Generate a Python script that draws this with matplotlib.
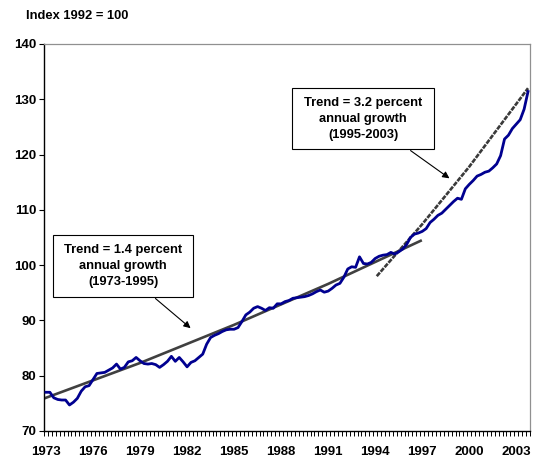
import numpy as np
import matplotlib
matplotlib.use("Agg")
import matplotlib.pyplot as plt
from matplotlib.patches import Rectangle

plt.rcParams['font.family'] = ['Liberation Sans', 'DejaVu Sans']
plt.rcParams['font.weight'] = 'bold'

# quarterly index, 1973Q1 .. 2003Q4 (1992 = 100)
primerAnio = 1973
indice = [
    77.0, 77.0, 76.0, 75.7, 75.6, 75.6, 74.7, 75.2,  # 1973-74
    75.9, 77.2, 78.0, 78.2, 79.3, 80.4, 80.5, 80.6,  # 1975-76
    81.0, 81.4, 82.1, 81.2, 81.5, 82.5, 82.7, 83.3,  # 1977-78
    82.7, 82.2, 82.1, 82.2, 82.0, 81.5, 82.0, 82.6,  # 1979-80
    83.5, 82.6, 83.3, 82.5, 81.6, 82.4, 82.7, 83.3,  # 1981-82
    83.9, 85.7, 86.9, 87.3, 87.6, 88.0, 88.3, 88.4,  # 1983-84
    88.4, 88.7, 89.8, 91.0, 91.5, 92.2, 92.5, 92.2,  # 1985-86
    91.8, 92.3, 92.2, 93.0, 93.0, 93.4, 93.6, 94.0,  # 1987-88
    94.1, 94.2, 94.3, 94.5, 94.8, 95.2, 95.5, 95.1,  # 1989-90
    95.3, 95.8, 96.4, 96.7, 97.8, 99.3, 99.7, 99.6,  # 1991-92
    101.5, 100.3, 100.2, 100.5, 101.2, 101.6, 101.8, 101.9,  # 1993-94
    102.3, 102.0, 102.4, 102.9, 103.7, 105.0, 105.6, 105.8,  # 1995-96
    106.1, 106.6, 107.7, 108.3, 109.0, 109.4, 110.1, 110.8,  # 1997-98
    111.5, 112.1, 111.9, 113.8, 114.6, 115.3, 116.1, 116.4,  # 1999-00
    116.8, 117.0, 117.6, 118.3, 119.8, 122.8, 123.5, 124.7,  # 2001-02
    125.5, 126.3, 128.2, 131.4,  # 2003
]

# trend lines
tendencia1Anios = [1972.9, 1979, 1985, 1991, 1996.9]
tendencia1Valores = [75.9, 82.3, 89.2, 96.6, 104.4]
tendencia2Anios = [1994.1, 1997, 2000, 2003.75]
tendencia2Valores = [98.0, 107.4, 117.8, 132.0]

etiquetasAnios = list(range(1973, 2004, 3))
ticksY = list(range(70, 141, 10))

texto1 = "Trend = 1.4 percent\nannual growth\n(1973-1995)"
texto2 = "Trend = 3.2 percent\nannual growth\n(1995-2003)"

trimestres = primerAnio + np.arange(len(indice)) / 4

fig = plt.figure(figsize=(5.36, 4.58), dpi=100)
ax = fig.add_axes([0.0821, 0.0590, 0.9067, 0.8450])

ax.plot(tendencia1Anios, tendencia1Valores, color='#404040', lw=1.9, zorder=2)
ax.plot(tendencia2Anios, tendencia2Valores, color='#3a3a3a', lw=1.9,
        dashes=(1.8, 0.45), zorder=2)
ax.plot(trimestres, indice, color='#000090', lw=2.0, zorder=3)

ax.set_xlim(primerAnio - 0.125, trimestres[-1] + 0.125)
ax.set_ylim(70, 140)
ax.set_yticks(ticksY)
ax.set_xticks(etiquetasAnios)
ax.set_xticklabels([str(a) for a in etiquetasAnios])
ax.set_xticks(np.arange(primerAnio - 0.125, trimestres[-1] + 0.2, 0.25), minor=True)
ax.tick_params(axis='x', which='major', length=0, pad=10.5, labelsize=9.5)
ax.tick_params(axis='x', which='minor', length=3.5, width=0.7, direction='out')
ax.tick_params(axis='y', length=3.5, width=0.8, pad=2, labelsize=9.5)

for lado in ['top', 'right']:
    ax.spines[lado].set_color('#909090')
    ax.spines[lado].set_linewidth(0.9)
for lado in ['left', 'bottom']:
    ax.spines[lado].set_color('black')
    ax.spines[lado].set_linewidth(1.0)

# annotation boxes
ax.add_patch(Rectangle((0.0191, 0.347), 0.287, 0.1595, transform=ax.transAxes,
                       facecolor='white', edgecolor='black', lw=0.8, zorder=4))
ax.text(0.1626, 0.4268, texto1, transform=ax.transAxes, ha='center', va='center',
        fontsize=9.3, fontweight='bold', linespacing=1.45, zorder=5)
ax.annotate('', xy=(0.306, 0.261), xytext=(0.2249, 0.347),
            xycoords='axes fraction', textcoords='axes fraction',
            arrowprops=dict(arrowstyle='-|>', color='black', lw=0.8, mutation_scale=10))

ax.add_patch(Rectangle((0.5097, 0.7287), 0.2934, 0.1568, transform=ax.transAxes,
                       facecolor='white', edgecolor='black', lw=0.8, zorder=4))
ax.text(0.6564, 0.8071, texto2, transform=ax.transAxes, ha='center', va='center',
        fontsize=9.3, fontweight='bold', linespacing=1.45, zorder=5)
ax.annotate('', xy=(0.8389, 0.6486), xytext=(0.7496, 0.7287),
            xycoords='axes fraction', textcoords='axes fraction',
            arrowprops=dict(arrowstyle='-|>', color='black', lw=0.8, mutation_scale=10))

fig.text(0.0485, 0.9657, "Index 1992 = 100", fontsize=9.3, fontweight='bold',
         ha='left', va='center')

fig.savefig("out.png", dpi=100)
